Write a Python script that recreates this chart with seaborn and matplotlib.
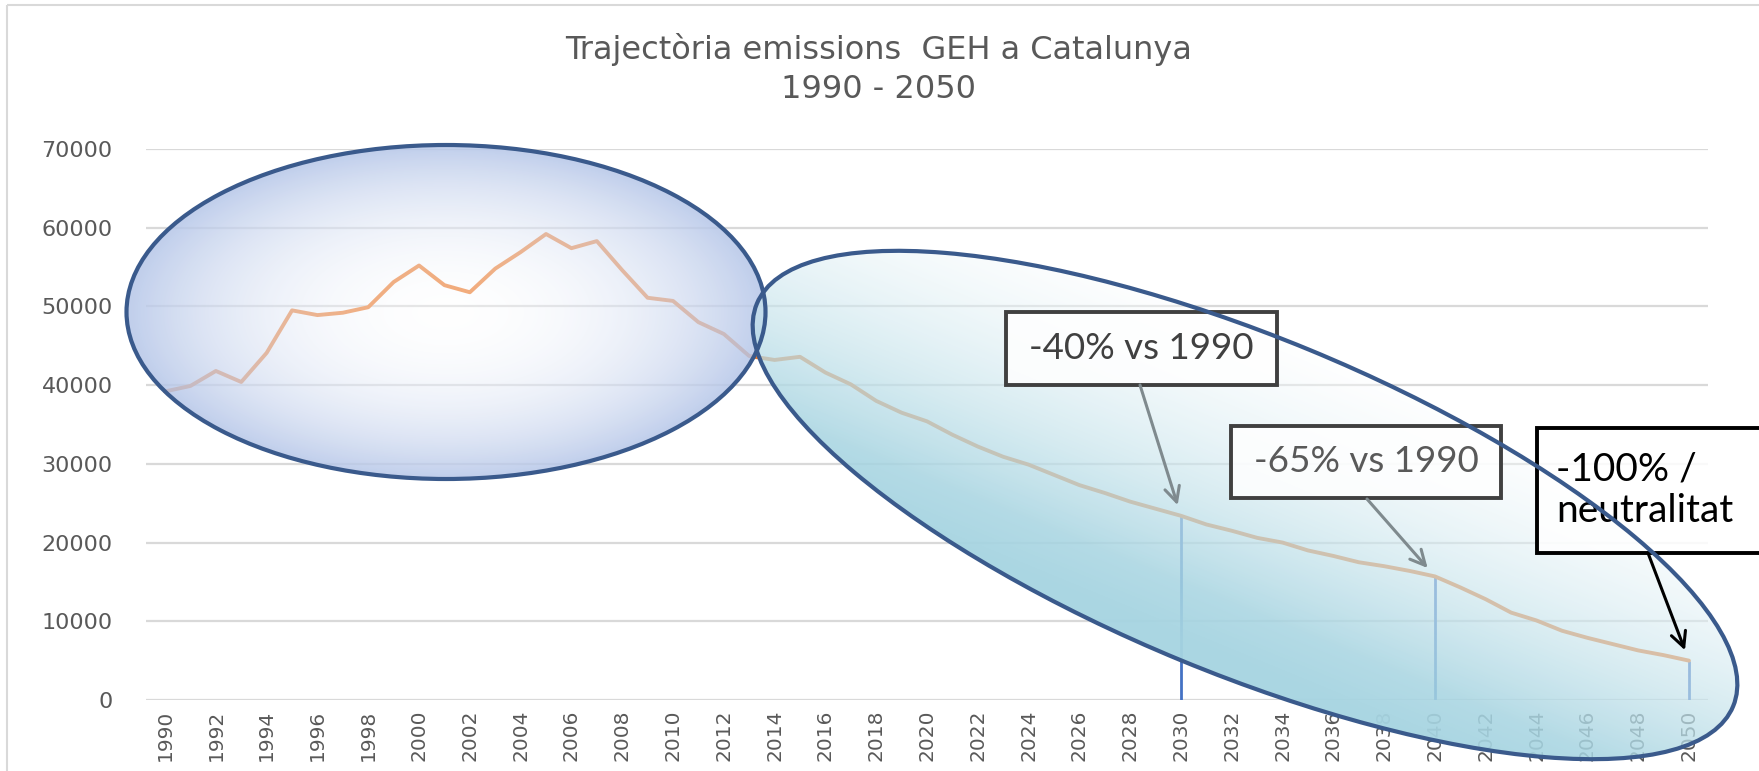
"""GHG emissions trajectory for Catalonia 1990-2050, with highlighted periods."""

import matplotlib

matplotlib.use("Agg")

import matplotlib.pyplot as plt
import numpy as np
import pandas as pd
import seaborn as sns
from matplotlib.colors import to_rgb
from matplotlib.patches import Ellipse, Rectangle

YEARS = list(range(1990, 2051))
EMISSIONS = [
    39200, 39900, 41800, 40400, 44100, 49500, 48900, 49200, 49900, 53100,
    55200, 52700, 51800, 54800, 56900, 59200, 57400, 58300, 54600, 51100,
    50700, 48000, 46500, 43700, 43200, 43600, 41600, 40100, 38000, 36500,
    35400, 33700, 32200, 30900, 29900, 28600, 27300, 26300, 25200, 24300,
    23400, 22300, 21500, 20600, 20000, 19000, 18300, 17500, 17000, 16400,
    15700, 14300, 12800, 11100, 10100, 8800, 7900, 7100, 6300, 5700,
    5000,
]
MILESTONE_YEARS = [2030, 2040, 2050]
MILESTONE_LABELS = ["-40% vs 1990", "-65% vs 1990", "-100% /\nneutralitat"]
Y_TICKS = [0, 10000, 20000, 30000, 40000, 50000, 60000, 70000]
X_TICKS = list(range(1990, 2051, 2))
TITLE_LINES = ["Trajectòria emissions  GEH a Catalunya", "1990 - 2050"]

W, H = 1759, 771
GREY_TEXT = "#595959"
OUTLINE = "#3A5A8C"


def radial_ellipse(ov, cx, cy, w, h, edge_color):
    """Ellipse with a radial white -> edge_color gradient fill."""
    x0, x1 = cx - w / 2, cx + w / 2
    y0, y1 = cy - h / 2, cy + h / 2
    X, Y = np.meshgrid(np.arange(x0, x1), np.arange(y0, y1))
    r = np.sqrt(((X - cx) / (w / 2)) ** 2 + ((Y - cy) / (h / 2)) ** 2)
    s = np.clip(r, 0, 1) ** 1.5
    rgba = np.zeros(X.shape + (4,))
    for k, c in enumerate(to_rgb(edge_color)):
        rgba[..., k] = 1 + (c - 1) * s
    rgba[..., 3] = 0.35 + 0.5 * s
    patch = Ellipse((cx, cy), w, h, fc="none", ec=OUTLINE, lw=3, zorder=7)
    ov.add_patch(patch)
    im = ov.imshow(rgba, extent=(x0, x1, y1, y0), origin="upper",
                   aspect="auto", zorder=2, interpolation="bilinear")
    im.set_clip_path(patch)


def linear_ellipse(ov, cx, cy, a, b, angle, end_color):
    """Rotated ellipse with a linear gradient across its minor axis."""
    th = np.deg2rad(angle)
    hx = np.sqrt((a * np.cos(th)) ** 2 + (b * np.sin(th)) ** 2)
    hy = np.sqrt((a * np.sin(th)) ** 2 + (b * np.cos(th)) ** 2)
    x0, x1, y0, y1 = cx - hx, cx + hx, cy - hy, cy + hy
    X, Y = np.meshgrid(np.arange(x0, x1), np.arange(y0, y1))
    v = -(X - cx) * np.sin(th) + (Y - cy) * np.cos(th)
    t = np.clip((v / b + 1) / 2, 0, 1)
    s = np.clip(t / 0.8, 0, 1)
    rgba = np.zeros(X.shape + (4,))
    for k, c in enumerate(to_rgb(end_color)):
        rgba[..., k] = 1 + (c - 1) * s
    rgba[..., 3] = np.clip(0.4 + 0.6 * t ** 1.2, 0, 0.96)
    patch = Ellipse((cx, cy), 2 * a, 2 * b, angle=angle, fc="none",
                    ec=OUTLINE, lw=3, zorder=7)
    ov.add_patch(patch)
    im = ov.imshow(rgba, extent=(x0, x1, y1, y0), origin="upper",
                   aspect="auto", zorder=2, interpolation="bilinear")
    im.set_clip_path(patch)


def main():
    sns.set_theme(style="whitegrid")
    plt.rcParams["font.family"] = ["DejaVu Sans"]

    df = pd.DataFrame({"year": YEARS, "emissions": EMISSIONS})
    values = dict(zip(YEARS, EMISSIONS))

    fig = plt.figure(figsize=(W / 100, H / 100), dpi=100)
    ax = fig.add_axes([146 / W, 71 / H, 1562 / W, 551 / H])
    sns.lineplot(data=df, x="year", y="emissions", ax=ax,
                 color="#ED7D31", linewidth=2.8, zorder=3)
    ax.vlines(MILESTONE_YEARS, 0, [values[y] for y in MILESTONE_YEARS],
              colors="#4472C4", linewidth=2, zorder=2)

    ax.set_xlim(1989.25, 2050.75)
    ax.set_ylim(0, 70000)
    ax.set_xticks(X_TICKS)
    ax.set_xticklabels([str(y) for y in X_TICKS], rotation=90)
    ax.set_yticks(Y_TICKS)
    ax.set_xlabel("")
    ax.set_ylabel("")
    ax.grid(axis="x", visible=False)
    ax.grid(axis="y", color="#D9D9D9", linewidth=1.6)
    for sp in ax.spines.values():
        sp.set_visible(False)
    ax.tick_params(axis="y", length=0, pad=24, labelsize=16, labelcolor=GREY_TEXT)
    ax.tick_params(axis="x", length=0, pad=7, labelsize=14.5, labelcolor=GREY_TEXT)

    # overlay in pixel coordinates (y down) for shapes and callouts
    ov = fig.add_axes([0, 0, 1, 1])
    ov.set_xlim(0, W)
    ov.set_ylim(H, 0)
    ov.axis("off")
    ov.add_patch(Rectangle((7, 5), W, H, fill=False, ec="#D9D9D9", lw=1.5))

    ov.text(879, 50, TITLE_LINES[0], ha="center", va="center",
            fontsize=23, color=GREY_TEXT)
    ov.text(879, 90, TITLE_LINES[1], ha="center", va="center",
            fontsize=23, color=GREY_TEXT)

    radial_ellipse(ov, 446, 312, 639, 334, "#B4C5E8")
    linear_ellipse(ov, 1245, 505, 528, 168, 22.4, "#A6D4E1")
    ov.set_xlim(0, W)
    ov.set_ylim(H, 0)

    boxes = [(1006, 312, 271, 73), (1231, 426, 270, 72), (1537, 428, 240, 125)]
    box_edges = ["#404040", "#404040", "black"]
    text_colors = ["#404040", GREY_TEXT, "black"]
    arrow_starts = [(1140, 385), (1367, 499), (1648, 553)]
    arrow_colors = ["#7F8A8E", "#7F8A8E", "black"]

    for yr, label, (bx, by, bw, bh), ec, tc, start, acol in zip(
            MILESTONE_YEARS, MILESTONE_LABELS, boxes, box_edges,
            text_colors, arrow_starts, arrow_colors):
        ov.add_patch(Rectangle((bx, by), bw, bh, fc=(1, 1, 1, 0.85),
                               ec=ec, lw=2.8, zorder=5))
        if "\n" in label:
            ov.text(bx + 19, by + bh / 2, label, ha="left", va="center",
                    fontsize=28, family=["Lato", "DejaVu Sans"], color=tc,
                    linespacing=1.2, zorder=6)
        else:
            ov.text(bx + bw / 2, by + bh / 2, label, ha="center", va="center",
                    fontsize=26.5, family=["Lato", "DejaVu Sans"], color=tc,
                    zorder=6)
        ov.annotate("", xy=(yr, values[yr]), xycoords=ax.transData,
                    xytext=start, textcoords="data",
                    arrowprops=dict(arrowstyle="->,head_length=0.9,head_width=0.45",
                                    color=acol, lw=2.2, shrinkA=0, shrinkB=8),
                    zorder=6)

    fig.savefig("out.png", dpi=100)
    plt.close(fig)


if __name__ == "__main__":
    main()
